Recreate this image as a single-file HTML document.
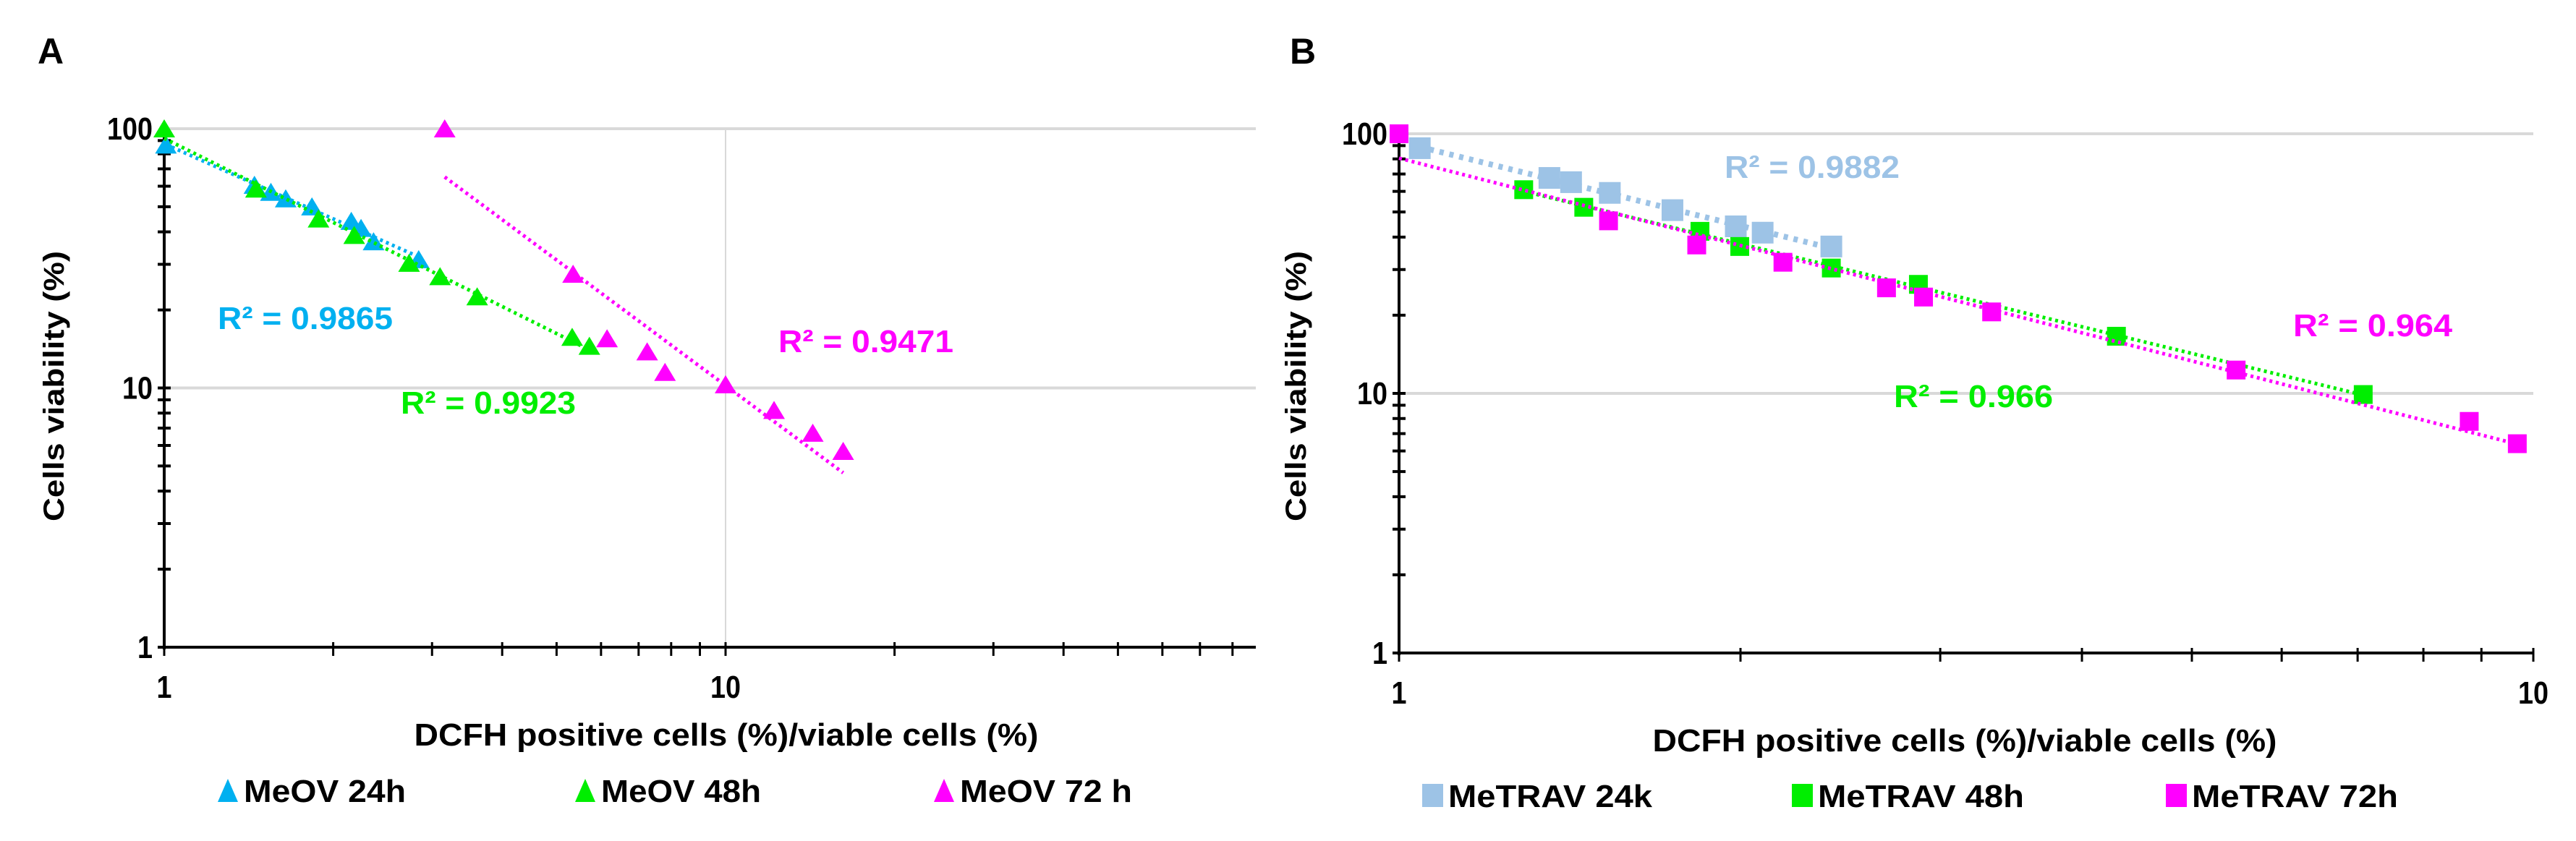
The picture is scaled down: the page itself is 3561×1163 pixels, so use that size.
<!DOCTYPE html>
<html><head><meta charset="utf-8"><style>
html,body{margin:0;padding:0;background:#fff;}
svg{display:block;font-family:"Liberation Sans",Arial,sans-serif;font-weight:bold;}
</style></head><body>
<svg id="chart" width="3561" height="1163" viewBox="0 0 3561 1163" xmlns="http://www.w3.org/2000/svg">
<rect width="3561" height="1163" fill="#fff"/>
<g id="panelA"></g>
<g id="panelB"></g>
</svg>
<script>
// ---- Panel A data (MeOV) ----
const a24x = [1.007, 1.448, 1.549, 1.646, 1.833, 2.154, 2.242, 2.36, 2.84];
const a24y = [86.6, 60.6, 56.9, 53.7, 50.0, 44.0, 41.3, 36.7, 31.3];
const a48x = [1, 1.457, 1.883, 2.18, 2.73, 3.1, 3.61, 5.33, 5.72];
const a48y = [100, 58.6, 44.9, 38.8, 30.3, 26.9, 22.5, 15.7, 14.5];
const a72x = [3.16, 5.35, 6.15, 7.25, 7.8, 10, 12.2, 14.3, 16.2];
const a72y = [100, 27.5, 15.5, 13.8, 11.5, 10.3, 8.2, 6.7, 5.7];
const aR2 = ["R² = 0.9865", "R² = 0.9923", "R² = 0.9471"];
const aLegend = ["MeOV 24h", "MeOV 48h", "MeOV 72 h"];
// ---- Panel B data (MeTRAV) ----
const b24x = [1.043, 1.357, 1.418, 1.534, 1.742, 1.981, 2.092, 2.405];
const b24y = [88, 67.6, 65.1, 59.2, 50.8, 44.0, 41.6, 36.8];
const b48x = [1.288, 1.455, 1.842, 1.997, 2.405, 2.87, 4.29, 7.08];
const b48y = [60.9, 52.1, 42.1, 36.8, 30.4, 26.3, 16.6, 9.9];
const b72x = [1, 1.53, 1.83, 2.18, 2.69, 2.9, 3.33, 5.47, 8.78, 9.68];
const b72y = [100, 46.2, 37.3, 32.0, 25.5, 23.5, 20.6, 12.3, 7.8, 6.4];
const bR2 = ["R² = 0.9882", "R² = 0.966", "R² = 0.964"];
const bLegend = ["MeTRAV 24k", "MeTRAV 48h", "MeTRAV 72h"];
const yTicks = [1, 10, 100];

const NS = "http://www.w3.org/2000/svg";
function el(tag, attrs, parent){const e=document.createElementNS(NS,tag);for(const k in attrs)e.setAttribute(k,attrs[k]);parent.appendChild(e);return e;}
function fit(xs, ys){const n=xs.length;let sx=0,sy=0,sxx=0,sxy=0;for(let i=0;i<n;i++){const lx=Math.log10(xs[i]),ly=Math.log10(ys[i]);sx+=lx;sy+=ly;sxx+=lx*lx;sxy+=lx*ly;}const b=(n*sxy-sx*sy)/(n*sxx-sx*sx);const a=(sy-b*sx)/n;return x=>Math.pow(10,a+b*Math.log10(x));}

function panel(g, cfg){
  const X = v => cfg.x0 + cfg.dx*Math.log10(v);
  const Y = v => cfg.y1 - cfg.dy*Math.log10(v);
  // gridlines
  [10,100].forEach(v=>{const l=el('line',{x1:cfg.x0,x2:cfg.xEnd,y1:Y(v),y2:Y(v),stroke:'#d9d9d9','stroke-width':4},g);
    
    });
  if(cfg.vgrid){const l=el('line',{x1:X(10),x2:X(10),y1:Y(100),y2:Y(1),stroke:'#d9d9d9','stroke-width':2},g);
    
    }
  // y axis
  const ya=el('line',{x1:cfg.x0,x2:cfg.x0,y1:Y(100)-4,y2:Y(1)+3,stroke:'#000','stroke-width':4},g);
  
  
  for(let d=1;d<=10;d*=10){for(let m=1;m<=9;m++){const v=d*m;if(v>100)continue;el('line',{x1:cfg.x0-9,x2:cfg.x0+9,y1:Y(v),y2:Y(v),stroke:'#000','stroke-width':4},g);}}
  // x axis
  const xa=el('line',{x1:cfg.x0,x2:cfg.xEnd,y1:Y(1),y2:Y(1),stroke:'#000','stroke-width':4},g);
  
  
  for(let d=1;d<=100;d*=10){for(let m=1;m<=9;m++){const v=d*m;const px=X(v);if(px>cfg.xEnd+2)continue;el('line',{x1:px,x2:px,y1:Y(1)-7,y2:Y(1)+12,stroke:'#000','stroke-width':3},g);}}
  // tick labels
  yTicks.forEach(v=>{const t=el('text',{x:cfg.x0-16,y:Y(v)+15,'text-anchor':'end','font-size':44},g);t.textContent=String(v);
    t.setAttribute('textLength',String(v).length*21);t.setAttribute('lengthAdjust','spacingAndGlyphs');
    
    });
  cfg.xTicks.forEach(v=>{const t=el('text',{x:X(v),y:cfg.y1+70,'text-anchor':'middle','font-size':44},g);t.textContent=String(v);
    t.setAttribute('textLength',String(v).length*21);t.setAttribute('lengthAdjust','spacingAndGlyphs');
    
    });
  // titles
  const xt=el('text',{x:cfg.xtX,y:cfg.y1+136,'text-anchor':'middle','font-size':44,textLength:863,lengthAdjust:'spacingAndGlyphs'},g);
  xt.textContent='DCFH positive cells (%)/viable  cells (%)';
  
  
  const yt=el('text',{x:0,y:0,'text-anchor':'middle','font-size':40,textLength:374,lengthAdjust:'spacingAndGlyphs',transform:`translate(${cfg.ytX},534) rotate(-90)`},g);
  yt.textContent='Cells viability (%)';
  
  
  // panel letter
  const pl=el('text',{x:cfg.letterX,y:88,'font-size':50},g);pl.textContent=cfg.letter;
  
  
  // series
  cfg.series.forEach((s,i)=>{
    const sg=el('g',{},g);
    
    
    const f=fit(s.x,s.y);const xmin=Math.min(...s.x),xmax=Math.max(...s.x);
    const tl=el('line',{x1:X(xmin),y1:Y(f(xmin)),x2:X(xmax),y2:Y(f(xmax)),stroke:s.color,'stroke-width':s.lw,'stroke-dasharray':s.dash,'stroke-linecap':'butt'},sg);
    
    
    s.x.forEach((xv,j)=>{
      const px=X(xv),py=Y(s.y[j]);let m;
      if(cfg.shape==='tri'){m=el('polygon',{points:`${px-15},${py+12} ${px+15},${py+12} ${px},${py-13}`,fill:s.color},sg);}
      else{const w=s.sz;m=el('rect',{x:px-w/2,y:py-w/2,width:w,height:w,fill:s.color},sg);}
      
      
    });
    const r=el('text',{x:s.rx,y:s.ry,'font-size':44,fill:s.color,textLength:s.r2.length*22,lengthAdjust:'spacingAndGlyphs'},sg);
    r.textContent=s.r2;
    
    
    // legend
    const lg=el('g',{},g);
    
    
    const lx=cfg.legX[i];
    if(cfg.shape==='tri')el('polygon',{points:`${lx},${cfg.legY+16} ${lx+28},${cfg.legY+16} ${lx+14},${cfg.legY-16}`,fill:s.color},lg);
    else el('rect',{x:lx,y:cfg.legY-16,width:29,height:32,fill:s.color},lg);
    const lt=el('text',{x:lx+36,y:cfg.legY+16,'font-size':44,textLength:s.legW,lengthAdjust:'spacingAndGlyphs'},lg);
    lt.textContent=s.leg;
  });
}

panel(document.getElementById('panelA'),{
  x0:227,dx:776,y1:895,dy:358.5,xEnd:1736,vgrid:true,xTicks:[1,10],xtX:1004,ytX:88,letter:'A',letterX:52,shape:'tri',
  legY:1093,legX:[301,795,1291],
  series:[
    {key:'meov-24h',x:a24x,y:a24y,color:'#00b0f0',lw:5,dash:'4 5',r2:aR2[0],rx:301,ry:455,leg:aLegend[0],legW:224},
    {key:'meov-48h',x:a48x,y:a48y,color:'#00ee00',lw:5,dash:'4 5',r2:aR2[1],rx:554,ry:572,leg:aLegend[1],legW:221},
    {key:'meov-72h',x:a72x,y:a72y,color:'#ff00ff',lw:5,dash:'4 5',r2:aR2[2],rx:1076,ry:487,leg:aLegend[2],legW:238}
  ]});
panel(document.getElementById('panelB'),{
  x0:1934,dx:1568,y1:903,dy:359,xEnd:3502,vgrid:false,xTicks:[1,10],xtX:2716,ytX:1805,letter:'B',letterX:1783,shape:'sq',
  legY:1100,legX:[1966,2477,2994],
  series:[
    {key:'metrav-24k',x:b24x,y:b24y,color:'#9dc3e6',lw:8,dash:'6 8',sz:30,r2:bR2[0],rx:2384,ry:246,leg:bLegend[0],legW:282},
    {key:'metrav-48h',x:b48x,y:b48y,color:'#00ee00',lw:5,dash:'4 5',sz:26,r2:bR2[1],rx:2618,ry:563,leg:bLegend[1],legW:285},
    {key:'metrav-72h',x:b72x,y:b72y,color:'#ff00ff',lw:5,dash:'4 5',sz:26,r2:bR2[2],rx:3170,ry:465,leg:bLegend[2],legW:285}
  ]});
</script>
</body></html>
